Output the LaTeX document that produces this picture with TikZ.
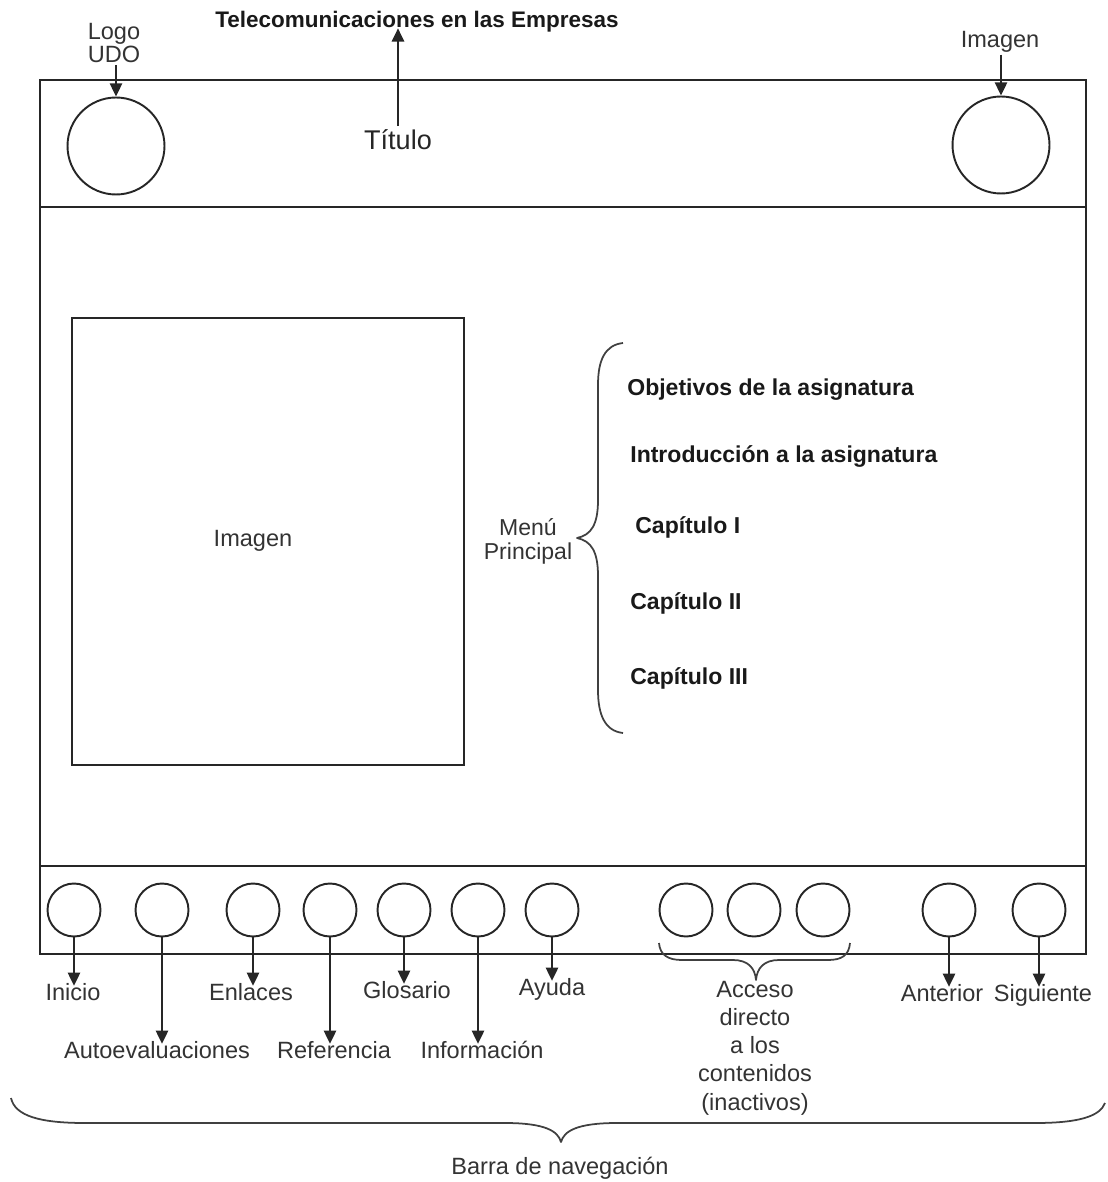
\documentclass[tikz,border=0pt]{standalone}
\usepackage{fontspec}
\setmainfont{Liberation Sans}
\usetikzlibrary{arrows.meta}

\begin{document}
\begin{tikzpicture}[x=0.02cm, y=-0.02cm,
  frame/.style={draw=black!85, line width=1.1pt},
  topbtn/.style={circle, draw=black!85, line width=1.1pt, minimum size=1.94cm, inner sep=0pt},
  navbtn/.style={circle, draw=black!85, line width=1.1pt, minimum size=1.06cm, inner sep=0pt},
  lbl/.style={font=\fontsize{13.4}{16.1}\selectfont, text=black!80, inner sep=1pt, align=center},
  navlbl/.style={lbl, text height=0.72em, text depth=0.2em},
  menuitem/.style={font=\bfseries\fontsize{13.1}{15.5}\selectfont, text=black!90, anchor=west, inner sep=0pt},
  arr/.style={draw=black!85, line width=1pt, -{Triangle[length=7.5pt, width=7pt]}},
  curly/.style={draw=black!75, line width=1pt, line join=round}]
\useasboundingbox (0,0) rectangle (1107,1182);

% page frame with header and navigation bar
\draw[frame] (40,80) rectangle (1086,954);
\draw[frame] (40,207) -- (1086,207);
\draw[frame] (40,866) -- (1086,866);

% header
\node[topbtn] (logoC) at (116,146) {};
\node[topbtn] (imgC) at (1001,145) {};
\node[lbl, font=\fontsize{13.4}{12}\selectfont] (logo) at (114,43) {Logo\\UDO};
\node[lbl] (imgtop) at (1000,42) {Imagen};
\node[font=\bfseries\fontsize{12.8}{15}\selectfont, text=black!90, inner sep=0pt, anchor=base, text depth=0pt] (tele) at (417,28) {Telecomunicaciones en las Empresas};
\node[font=\fontsize{15.4}{18}\selectfont, text=black!85, inner sep=2pt] (titulo) at (398,140) {Título};
\draw[arr] (logoC.north |- logo.south) -- (logoC.north);
\draw[arr] (imgC.north |- imgtop.south) -- (imgC.north);
\draw[arr] (titulo.north) -- (titulo.north |- tele.south);

% content area
\draw[frame] (72,318) rectangle (464,765);
\node[lbl] (img) at (253,541) {Imagen};
\node[lbl, font=\fontsize{13.1}{13.7}\selectfont] (menu) at (528,541) {Menú\\Principal};
\draw[curly] (623,343) .. controls (605,345) and (598,360) .. (598,385) -- (598,500)
  .. controls (598,525) and (591,535) .. (577,538)
  .. controls (591,541) and (598,551) .. (598,576) -- (598,690)
  .. controls (598,715) and (605,731) .. (623,733);
\node[menuitem] (m1) at (627,390) {Objetivos de la asignatura};
\node[menuitem] (m2) at (630,456) {Introducción a la asignatura};
\node[menuitem] (m3) at (635,527) {Capítulo I};
\node[menuitem] (m4) at (630,603) {Capítulo II};
\node[menuitem] (m5) at (630,678) {Capítulo III};

% navigation bar buttons
\foreach \n/\x in {b1/74, b2/162, b3/253, b4/330, b5/404, b6/478, b7/552,
                   c1/686, c2/754, c3/823, b8/949, b9/1039}
  \node[navbtn] (\n) at (\x,910) {};

\node[navlbl] (l1) at (73,996) {Inicio};
\node[navlbl] (l2) at (157,1054) {Autoevaluaciones};
\node[navlbl] (l3) at (251,996) {Enlaces};
\node[navlbl] (l4) at (334,1054) {Referencia};
\node[navlbl] (l5) at (407,994) {Glosario};
\node[navlbl] (l6) at (482,1054) {Información};
\node[navlbl] (l7) at (552,991) {Ayuda};
\node[navlbl] (l8) at (942,997) {Anterior};
\node[navlbl] (l9) at (1043,997) {Siguiente};
\foreach \i in {1,...,9}
  \draw[arr] (b\i.south) -- (b\i.south |- l\i.north);

% inactive direct-access buttons
\draw[curly] (659,943) .. controls (660,955) and (668,960) .. (682,960) -- (733,960)
  .. controls (748,960) and (755,968) .. (756,980)
  .. controls (757,968) and (764,960) .. (779,960) -- (828,960)
  .. controls (842,960) and (849,955) .. (850,943);
\node[lbl] (acc) at (755,1048) {Acceso\\directo\\a los\\contenidos\\(inactivos)};

% whole navigation bar
\draw[curly] (11,1098) .. controls (15,1116) and (40,1123) .. (85,1123) -- (505,1123)
  .. controls (545,1123) and (558,1131) .. (561,1142)
  .. controls (564,1131) and (577,1123) .. (617,1123) -- (1035,1123)
  .. controls (1080,1123) and (1100,1116) .. (1105,1103);
\node[lbl] (barra) at (560,1168) {Barra de navegación};
\end{tikzpicture}
\end{document}
